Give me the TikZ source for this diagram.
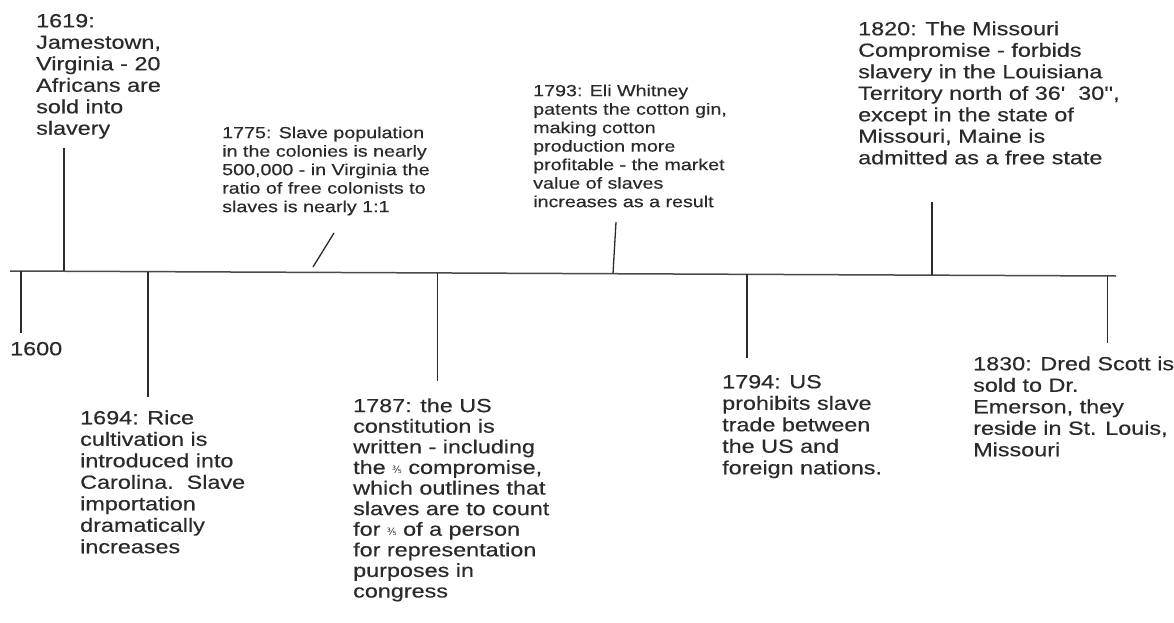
\documentclass[tikz,border=0pt]{standalone}
\usepackage{fontspec}
\newfontfamily\tlfont{Liberation Sans}[FakeStretch=1.23,FakeBold=0.4,Ligatures=TeXOff]
\newfontfamily\fracfont{DejaVu Sans}
\newcommand{\tfifth}{{\fracfont\fontsize{10}{10}\selectfont ⅗}}
\definecolor{ink}{HTML}{2a2a2a}
\definecolor{axis}{HTML}{4a4a4a}
\begin{document}
\begin{tikzpicture}[x=1pt,y=-1pt,
  bigtext/.style={anchor=north west,inner sep=0pt,align=left,text=ink,
    font={\tlfont\fontsize{19}{21.5}\selectfont}},
  tighttext/.style={anchor=north west,inner sep=0pt,align=left,text=ink,
    font={\tlfont\fontsize{19}{20.6}\selectfont}},
  smalltext/.style={anchor=north west,inner sep=0pt,align=left,text=ink,
    font={\tlfont\fontsize{16}{18.5}\selectfont}},
  tick/.style={draw=ink,line width=1.3pt},
  axisline/.style={draw=axis,line width=1.5pt}]
\useasboundingbox (0,0) rectangle (1174,623);
% main line
\coordinate (L) at (10,271);
\coordinate (R) at (1116,276);
\draw[axisline] (L) -- (R);
% points on the line
\coordinate (p1600) at (21,271.05);
\coordinate (p1619) at (64,271.24);
\coordinate (p1694) at (148,271.62);
\coordinate (p1787) at (437.5,272.93);
\coordinate (p1793) at (613,273.73);
\coordinate (p1794) at (747,274.33);
\coordinate (p1820) at (932,275.17);
\coordinate (p1830) at (1107.5,275.96);
% free ends
\coordinate (e1600) at (21,333);
\coordinate (e1619) at (64,148);
\coordinate (e1694) at (148,397);
\coordinate (s1775a) at (313,267);
\coordinate (s1775b) at (334,233);
\coordinate (e1787) at (437.5,381);
\coordinate (e1793) at (616,222);
\coordinate (e1794) at (747,358);
\coordinate (e1820) at (932,202);
\coordinate (e1830) at (1107.5,343);
\draw[tick] (p1600) -- (e1600);
\draw[tick] (p1619) -- (e1619);
\draw[tick] (p1694) -- (e1694);
\draw[tick] (s1775a) -- (s1775b);
\draw[tick] (p1787) -- (e1787);
\draw[tick] (p1793) -- (e1793);
\draw[tick] (p1794) -- (e1794);
\draw[tick] (p1820) -- (e1820);
\draw[tick] (p1830) -- (e1830);
% texts
\node[bigtext] (t1600) at (10,340) {\strut 1600};
\node[bigtext] (t1619) at (36,12) {\strut 1619:\\Jamestown,\\Virginia - 20\\Africans are\\sold into\\slavery};
\node[smalltext] (t1775) at (222,125) {\strut 1775: Slave population\\in the colonies is nearly\\500,000 - in Virginia the\\ratio of free colonists to\\slaves is nearly 1:1};
\node[smalltext] (t1793) at (533,83) {\strut 1793: Eli Whitney\\patents the cotton gin,\\making cotton\\production more\\profitable - the market\\value of slaves\\increases as a result};
\node[bigtext] (t1820) at (858,20) {\strut 1820: The Missouri\\Compromise - forbids\\slavery in the Louisiana\\Territory north of 36'~~30'',\\except in the state of\\Missouri, Maine is\\admitted as a free state};
\node[bigtext] (t1694) at (80,409) {\strut 1694: Rice\\cultivation is\\introduced into\\Carolina.~~Slave\\importation\\dramatically\\increases};
\node[tighttext] (t1787) at (353,397.5) {\strut 1787: the US\\constitution is\\written - including\\the \tfifth{} compromise,\\which outlines that\\slaves are to count\\for \tfifth{} of a person\\for representation\\purposes in\\congress};
\node[bigtext] (t1794) at (722,373) {\strut 1794: US\\prohibits slave\\trade between\\the US and\\foreign nations.};
\node[bigtext] (t1830) at (973,355) {\strut 1830: Dred Scott is\\sold to Dr.\\Emerson, they\\reside in St. Louis,\\Missouri};
\end{tikzpicture}
\end{document}
